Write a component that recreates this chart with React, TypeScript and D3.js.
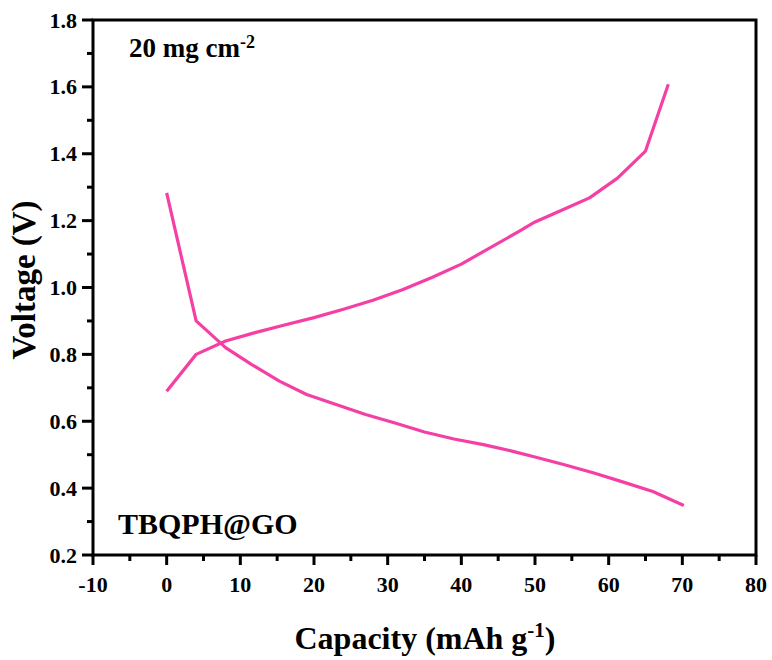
import React from "react";
import * as d3 from "d3";

const chargeCap = [0, 4, 8, 12, 16, 20, 24, 28, 32, 36, 40, 44, 48, 50, 54, 57.4, 61.2, 65, 68.1];
const chargeV = [0.69, 0.8, 0.84, 0.865, 0.888, 0.91, 0.935, 0.962, 0.993, 1.03, 1.07, 1.12, 1.17, 1.196, 1.235, 1.268, 1.327, 1.408, 1.608];
const dischargeCap = [0, 4, 8, 11.5, 15.3, 19, 23, 27, 31, 35, 39, 43, 47, 50, 54, 58, 62, 66, 70.2];
const dischargeV = [1.283, 0.9, 0.82, 0.77, 0.72, 0.68, 0.65, 0.62, 0.595, 0.568, 0.547, 0.53, 0.51, 0.493, 0.47, 0.445, 0.418, 0.39, 0.348];
const xTicks = [-10, 0, 10, 20, 30, 40, 50, 60, 70, 80];
const yTicks = [0.2, 0.4, 0.6, 0.8, 1.0, 1.2, 1.4, 1.6, 1.8];

const L = 93, R = 756, T = 20, B = 555;
const FONT = "Liberation Serif, Times New Roman, serif";
const COLOR = "#F43FA5";

export default function App() {
  const x = d3.scaleLinear().domain([-10, 80]).range([L, R]);
  const y = d3.scaleLinear().domain([0.2, 1.8]).range([B, T]);
  const line = d3.line<[number, number]>().x(d => x(d[0])).y(d => y(d[1]));
  const charge = chargeCap.map((c, i) => [c, chargeV[i]] as [number, number]);
  const discharge = dischargeCap.map((c, i) => [c, dischargeV[i]] as [number, number]);
  const xMinor = d3.range(-5, 80, 10);
  const yMinor = d3.range(0.3, 1.8, 0.2);
  const sw = 3;
  return (
    <svg width={772} height={660} style={{ position: "absolute", left: 0, top: 0, background: "#fff", fontFamily: FONT }}>
      <path d={line(discharge) || ""} fill="none" stroke={COLOR} strokeWidth={3.2} strokeLinejoin="round" />
      <path d={line(charge) || ""} fill="none" stroke={COLOR} strokeWidth={3.2} strokeLinejoin="round" />
      <rect x={L} y={T} width={R - L} height={B - T} fill="none" stroke="#000" strokeWidth={sw} />
      {xTicks.map(t => (
        <g key={"xt" + t}>
          <line x1={x(t)} x2={x(t)} y1={B} y2={B + 10} stroke="#000" strokeWidth={sw} />
          <text x={x(t)} y={592} textAnchor="middle" fontSize={22} fontWeight="bold">{t}</text>
        </g>
      ))}
      {xMinor.map(t => (
        <line key={"xm" + t} x1={x(t)} x2={x(t)} y1={B} y2={B + 6} stroke="#000" strokeWidth={sw} />
      ))}
      {yTicks.map(t => (
        <g key={"yt" + t}>
          <line x1={L - 11} x2={L} y1={y(t)} y2={y(t)} stroke="#000" strokeWidth={sw} />
          <text x={77} y={y(t) + 7.5} textAnchor="end" fontSize={22} fontWeight="bold">{t.toFixed(1)}</text>
        </g>
      ))}
      {yMinor.map(t => (
        <line key={"ym" + t} x1={L - 6} x2={L} y1={y(t)} y2={y(t)} stroke="#000" strokeWidth={sw} />
      ))}
      <text x={129} y={57} fontSize={27} fontWeight="bold">20 mg cm<tspan dy={-9} fontSize={18}>-2</tspan></text>
      <text x={118} y={534} fontSize={30} fontWeight="bold">TBQPH@GO</text>
      <text x={425} y={649} textAnchor="middle" fontSize={32} fontWeight="bold">Capacity (mAh g<tspan dy={-12} fontSize={21}>-1</tspan><tspan dy={12}>)</tspan></text>
      <text transform={`translate(35, 280) rotate(-90)`} textAnchor="middle" fontSize={33} fontWeight="bold">Voltage (V)</text>
    </svg>
  );
}
